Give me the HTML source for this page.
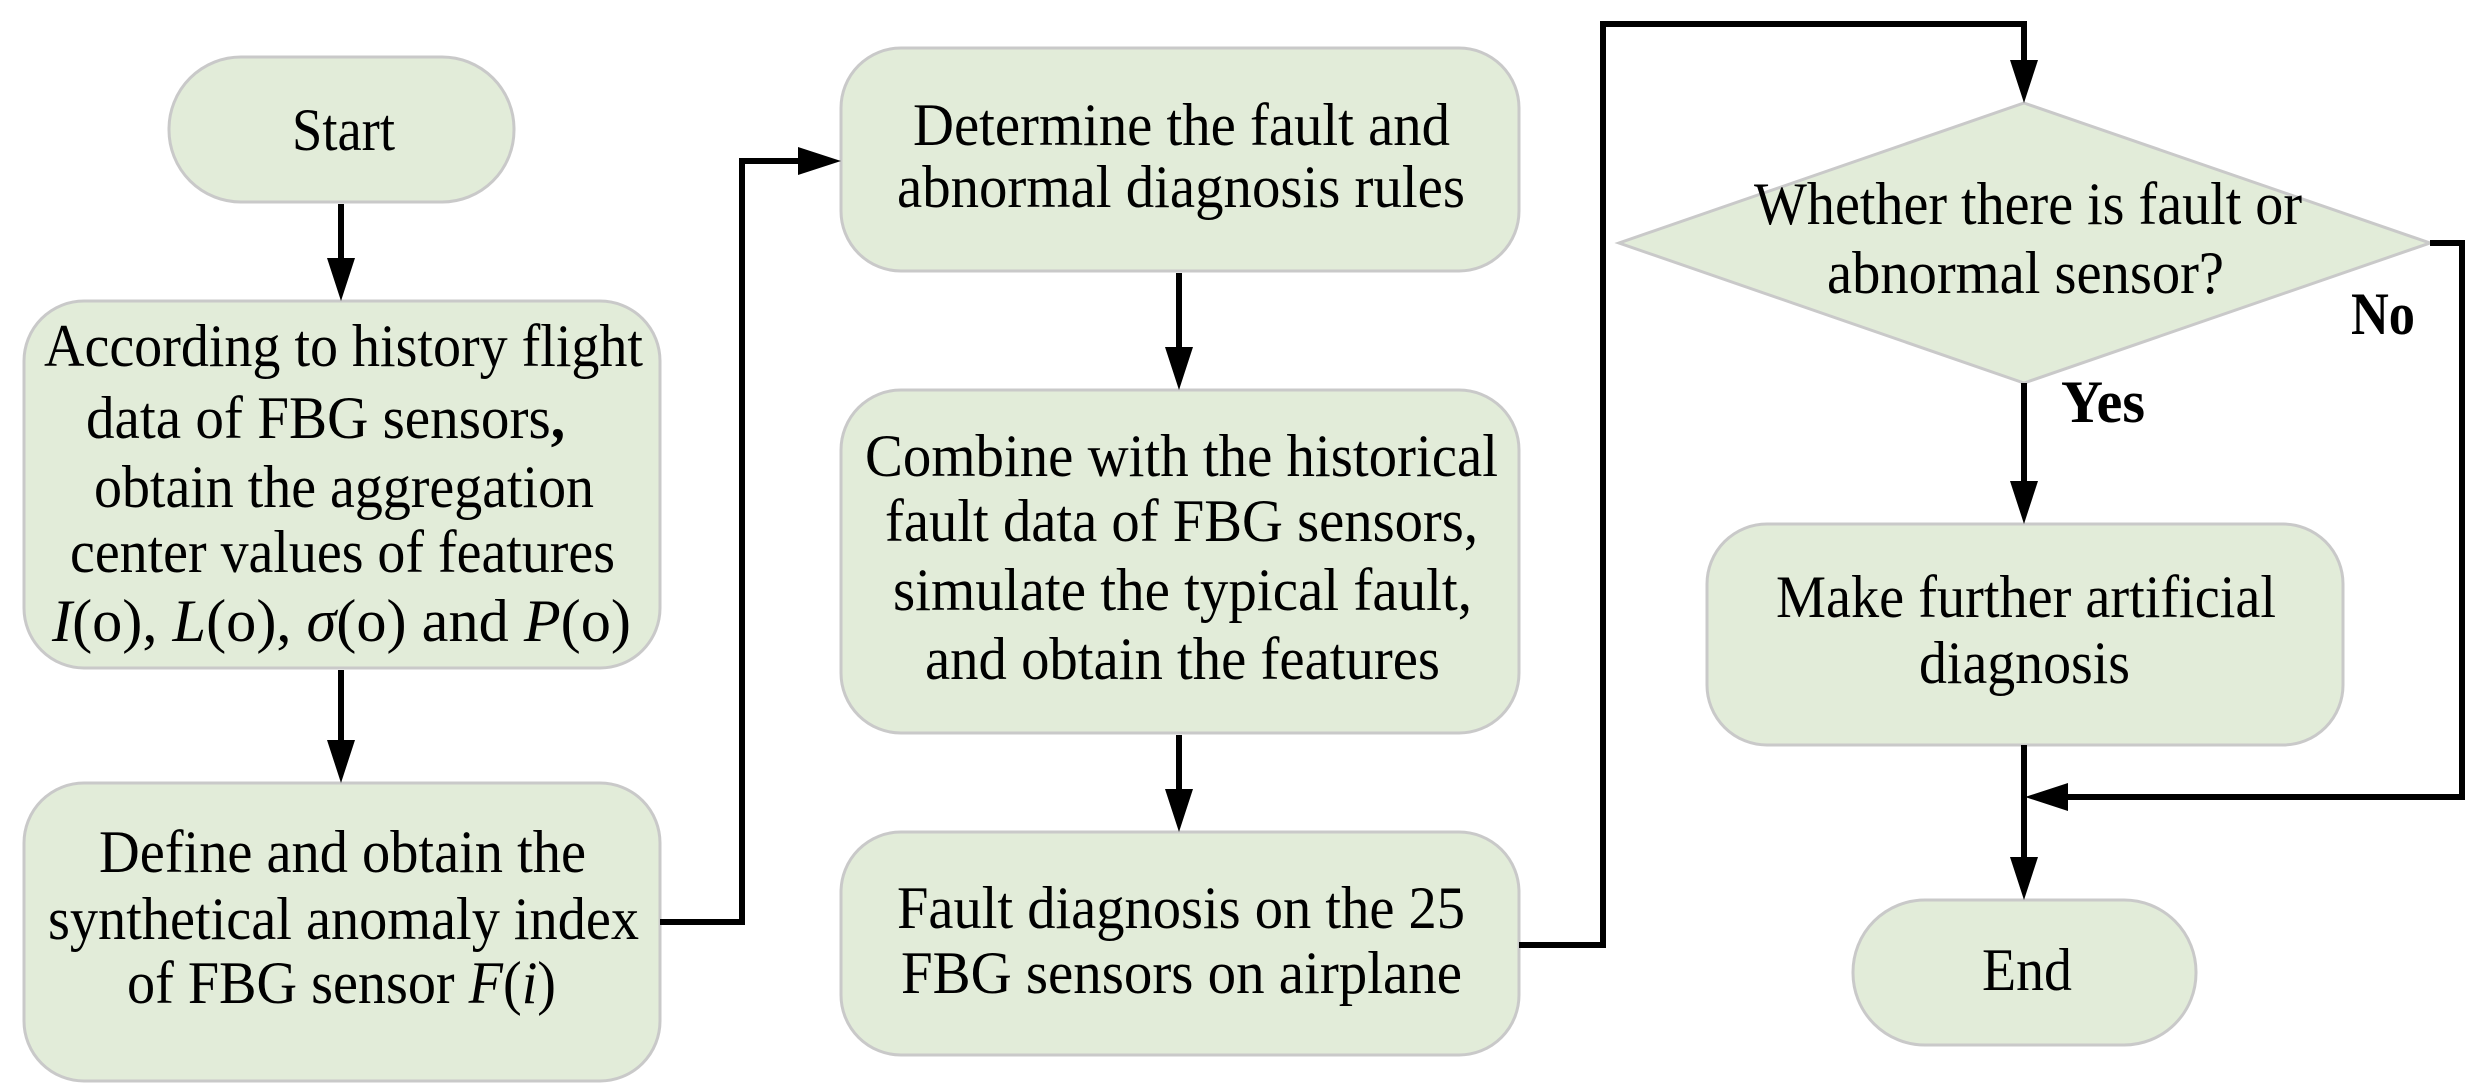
<!DOCTYPE html>
<html><head><meta charset="utf-8"><style>html,body{margin:0;padding:0;background:#fff}svg{display:block}</style></head>
<body>
<svg width="2489" height="1089" viewBox="0 0 2489 1089" xmlns="http://www.w3.org/2000/svg" font-family="'Liberation Serif', serif" font-size="60">
<g fill="#e2ecd9" stroke="#c9c9c9" stroke-width="3">
<rect x="169" y="57" width="345" height="145" rx="72"/>
<rect x="24" y="301" width="636" height="367" rx="60"/>
<rect x="24" y="783" width="636" height="298" rx="60"/>
<rect x="841" y="48" width="678" height="223" rx="60"/>
<rect x="841" y="390" width="678" height="343" rx="60"/>
<rect x="841" y="832" width="678" height="223" rx="60"/>
<polygon points="2024,103 2430,243 2024,383 1619,243"/>
<rect x="1707" y="524" width="636" height="221" rx="60"/>
<rect x="1853" y="900" width="343" height="145" rx="72"/>
</g>
<g stroke="#000" stroke-width="6" fill="none">
<line x1="341" y1="204" x2="341" y2="260"/>
<line x1="341" y1="670" x2="341" y2="742"/>
<polyline points="660,922 742,922 742,161 800,161"/>
<line x1="1179" y1="273" x2="1179" y2="349"/>
<line x1="1179" y1="735" x2="1179" y2="791"/>
<polyline points="1519,945 1603,945 1603,24 2024,24 2024,62"/>
<line x1="2024" y1="383" x2="2024" y2="483"/>
<polyline points="2430,243 2462,243 2462,797 2066,797"/>
<line x1="2024" y1="745" x2="2024" y2="859"/>
</g>
<g fill="#000">
<path d="M327,258 L355,258 L341,301 z"/>
<path d="M327,740 L355,740 L341,783 z"/>
<path d="M798,147 L798,175 L841,161 z"/>
<path d="M1165,347 L1193,347 L1179,390 z"/>
<path d="M1165,789 L1193,789 L1179,832 z"/>
<path d="M2010,60 L2038,60 L2024,103 z"/>
<path d="M2010,481 L2038,481 L2024,524 z"/>
<path d="M2068,783 L2068,811 L2025,797 z"/>
<path d="M2010,857 L2038,857 L2024,900 z"/>
</g>
<g fill="#000">
<text x="292" y="150" textLength="103" lengthAdjust="spacingAndGlyphs">Start</text>
<text x="44" y="366" textLength="599" lengthAdjust="spacingAndGlyphs">According to history flight</text>
<text x="86" y="438" textLength="479" lengthAdjust="spacingAndGlyphs">data of FBG sensors<tspan font-weight="bold">,</tspan></text>
<text x="94" y="507" textLength="500" lengthAdjust="spacingAndGlyphs">obtain the aggregation</text>
<text x="70" y="572" textLength="545" lengthAdjust="spacingAndGlyphs">center values of features</text>
<text x="52" y="641" textLength="579" lengthAdjust="spacingAndGlyphs"><tspan font-style="italic">I</tspan>(o), <tspan font-style="italic">L</tspan>(o),  <tspan font-style="italic">σ</tspan>(o)  and <tspan font-style="italic">P</tspan>(o)</text>
<text x="99" y="872" textLength="487" lengthAdjust="spacingAndGlyphs">Define and obtain the</text>
<text x="48" y="939" textLength="591" lengthAdjust="spacingAndGlyphs">synthetical anomaly index</text>
<text x="127" y="1003" textLength="429" lengthAdjust="spacingAndGlyphs">of FBG sensor <tspan font-style="italic">F</tspan>(<tspan font-style="italic">i</tspan>)</text>
<text x="913" y="145" textLength="537" lengthAdjust="spacingAndGlyphs">Determine the fault and</text>
<text x="897" y="207" textLength="568" lengthAdjust="spacingAndGlyphs">abnormal diagnosis rules</text>
<text x="865" y="476" textLength="633" lengthAdjust="spacingAndGlyphs">Combine with the historical</text>
<text x="885" y="541" textLength="593" lengthAdjust="spacingAndGlyphs">fault data of FBG sensors,</text>
<text x="893" y="610" textLength="579" lengthAdjust="spacingAndGlyphs">simulate the typical fault,</text>
<text x="925" y="679" textLength="515" lengthAdjust="spacingAndGlyphs">and obtain the features</text>
<text x="897" y="928" textLength="568" lengthAdjust="spacingAndGlyphs">Fault diagnosis on the 25</text>
<text x="901" y="993" textLength="561" lengthAdjust="spacingAndGlyphs">FBG sensors on airplane</text>
<text x="1754" y="224" textLength="548" lengthAdjust="spacingAndGlyphs">Whether there is fault or</text>
<text x="1827" y="293" textLength="397" lengthAdjust="spacingAndGlyphs">abnormal sensor?</text>
<text x="1776" y="617" textLength="500" lengthAdjust="spacingAndGlyphs">Make further artificial</text>
<text x="1919" y="683" textLength="211" lengthAdjust="spacingAndGlyphs">diagnosis</text>
<text x="1982" y="990" textLength="90" lengthAdjust="spacingAndGlyphs">End</text>
<text x="2351" y="334" font-weight="bold" textLength="64" lengthAdjust="spacingAndGlyphs">No</text>
<text x="2061" y="422" font-weight="bold" textLength="84" lengthAdjust="spacingAndGlyphs">Yes</text>
</g>
</svg>
</body></html>
